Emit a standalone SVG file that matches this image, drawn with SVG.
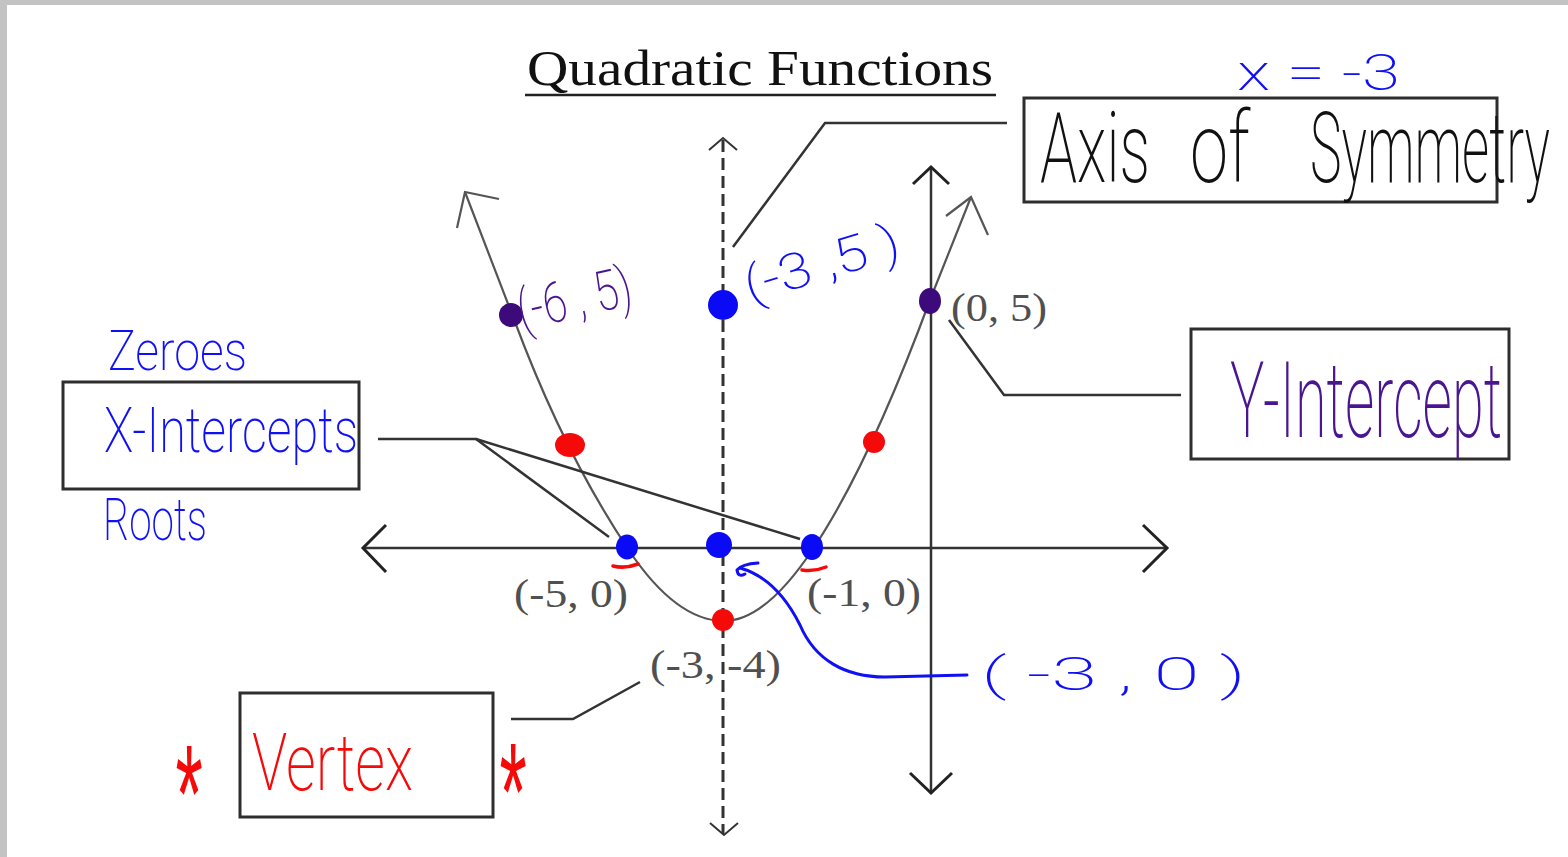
<svg xmlns="http://www.w3.org/2000/svg" width="1568" height="857" viewBox="0 0 1568 857">
<style>
.box{fill:none;stroke:#2e2e2e;stroke-width:3}
.ax{fill:none;stroke:#333;stroke-width:2.5}
.axh{fill:none;stroke:#222;stroke-width:3}
.dash{fill:none;stroke:#333;stroke-width:3;stroke-dasharray:12 6}
.curve{fill:none;stroke:#555;stroke-width:2.2}
.lead{fill:none;stroke:#333;stroke-width:2.5}
.lbl{font-family:'Liberation Serif',serif;font-size:41px;fill:#505050}
.hw{font-family:Roboto,'Open Sans',sans-serif;font-weight:200}
.blue{fill:#1010f5}
.purple{fill:#4a1590}
.red{fill:#f50a0a}
.black{fill:#111}
.bstroke{fill:none;stroke:#1010f5;stroke-width:3;stroke-linecap:round;stroke-linejoin:round}
.rstroke{fill:none;stroke:#f50a0a;stroke-width:3.5;stroke-linecap:round}
</style>
<rect width="1568" height="857" fill="#fff"/>
<rect x="0" y="0" width="1568" height="5" fill="#c3c3c3"/>
<rect x="0" y="0" width="7" height="857" fill="#c3c3c3"/>

<g id="title">
<text x="527" y="85" font-family="'Liberation Serif',serif" font-size="50" fill="#111" textLength="466" lengthAdjust="spacingAndGlyphs">Quadratic Functions</text>
<line x1="525" y1="95" x2="996" y2="95" stroke="#222" stroke-width="2.5"/>
</g>

<g id="graph">
<line class="ax" x1="363" y1="548" x2="1167" y2="548"/>
<polyline class="axh" points="386,525 363,548 386,572"/>
<polyline class="axh" points="1143,525 1167,548 1143,572"/>
<line class="ax" x1="931" y1="167" x2="931" y2="793"/>
<polyline class="axh" points="913,184 931,167 949,184"/>
<polyline class="axh" points="910,773 931,793 952,773"/>
<line class="dash" x1="723" y1="140" x2="723" y2="834"/>
<polyline class="ax" style="stroke-width:2" points="709,150 723,138 737,150"/>
<polyline class="ax" style="stroke-width:2" points="710,823 724,835 738,823"/>
<path class="curve" d="M465,192 L515,322 Q564,453 628,549 Q676,621 724,621 Q765,621 813,549 Q869,465 930,300 L971,197"/>
<polyline class="curve" points="457,228 465,192 499,199"/>
<polyline class="curve" points="946,216 971,197 988,235"/>
</g>

<g id="points">
<ellipse cx="511" cy="315" rx="12" ry="12" fill="#3c0a7a"/>
<circle cx="723" cy="305" r="15" fill="#0a0af5"/>
<ellipse cx="930" cy="301" rx="11" ry="13" fill="#3c0a7a"/>
<ellipse cx="570" cy="445" rx="15" ry="12" fill="#f50a0a"/>
<circle cx="874" cy="442" r="11" fill="#f50a0a"/>
<ellipse cx="627" cy="547" rx="11" ry="12.5" fill="#0a0af5"/>
<circle cx="719" cy="545" r="13" fill="#0a0af5"/>
<ellipse cx="812" cy="547" rx="11" ry="13" fill="#0a0af5"/>
<circle cx="723" cy="620" r="11" fill="#f50a0a"/>
<path class="rstroke" d="M613,566 Q625,569 638,564"/>
<path class="rstroke" d="M802,570 Q814,572 826,567"/>
</g>

<g id="point-labels">
<text class="lbl" x="514" y="607" textLength="114" lengthAdjust="spacingAndGlyphs">(-5, 0)</text>
<text class="lbl" x="807" y="606" textLength="114" lengthAdjust="spacingAndGlyphs">(-1, 0)</text>
<text class="lbl" x="650" y="678" textLength="131" lengthAdjust="spacingAndGlyphs">(-3, -4)</text>
<text class="lbl" x="951" y="321" textLength="96" lengthAdjust="spacingAndGlyphs">(0, 5)</text>
</g>

<g id="connectors">
<polyline class="lead" points="1007,123 825,123 733,247"/>
<polyline class="lead" points="378,439 476,439 609,537"/>
<line class="lead" x1="476" y1="439" x2="800" y2="539"/>
<polyline class="lead" points="1181,395 1004,395 949,320"/>
<polyline class="lead" points="511,719 573,719 640,682"/>
<path class="bstroke" d="M967,675 L885,677 C845,677 815,660 800,625 C785,595 765,575 740,568"/>
<path class="bstroke" d="M758,563 Q742,564 737,570 Q738,578 745,574"/>
</g>

<g id="node-axis-of-symmetry">
<rect class="box" x="1024" y="98" width="473" height="104"/>
<text class="hw black" y="182" font-size="98"><tspan x="1040" textLength="110" lengthAdjust="spacingAndGlyphs">Axis</tspan> <tspan x="1190" textLength="60" lengthAdjust="spacingAndGlyphs">of</tspan> <tspan x="1310" textLength="240" lengthAdjust="spacingAndGlyphs">Symmetry</tspan></text>
<text class="hw blue" x="1237" y="90" font-size="50" textLength="163" lengthAdjust="spacingAndGlyphs">x = -3</text>
</g>

<g id="node-x-intercepts">
<rect class="box" x="63" y="382" width="296" height="107"/>
<text class="hw blue" x="104" y="452" font-size="63" textLength="254" lengthAdjust="spacingAndGlyphs">X-Intercepts</text>
<text class="hw blue" x="108" y="370" font-size="56" textLength="139" lengthAdjust="spacingAndGlyphs">Zeroes</text>
<text class="hw blue" x="103" y="540" font-size="60" textLength="104" lengthAdjust="spacingAndGlyphs">Roots</text>
</g>

<g id="node-y-intercept">
<rect class="box" x="1191" y="329" width="318" height="130"/>
<text class="hw purple" x="1230" y="437" font-size="105" textLength="272" lengthAdjust="spacingAndGlyphs">Y-Intercept</text>
</g>

<g id="node-vertex">
<rect class="box" x="240" y="693" width="253" height="124"/>
<text class="hw red" x="252" y="790" font-size="80" textLength="161" lengthAdjust="spacingAndGlyphs">Vertex</text>
<text class="red" transform="translate(189,762) scale(0.7,1.4)" x="0" y="57" font-family="'Liberation Sans',sans-serif" font-size="100" text-anchor="middle">*</text>
<text class="red" transform="translate(513,760) scale(0.7,1.4)" x="0" y="57" font-family="'Liberation Sans',sans-serif" font-size="100" text-anchor="middle">*</text>
</g>

<g id="annotations">
<text class="hw purple" transform="rotate(-13 522 330)" x="522" y="330" font-size="56" textLength="116" lengthAdjust="spacingAndGlyphs">(-6 , 5)</text>
<text class="hw blue" transform="rotate(-17 750 303)" x="750" y="303" font-size="50" textLength="160" lengthAdjust="spacingAndGlyphs">(-3 ,5 )</text>
<text class="hw blue" x="981" y="690" font-size="46" textLength="265" lengthAdjust="spacingAndGlyphs">( -3 , 0 )</text>
</g>
</svg>
